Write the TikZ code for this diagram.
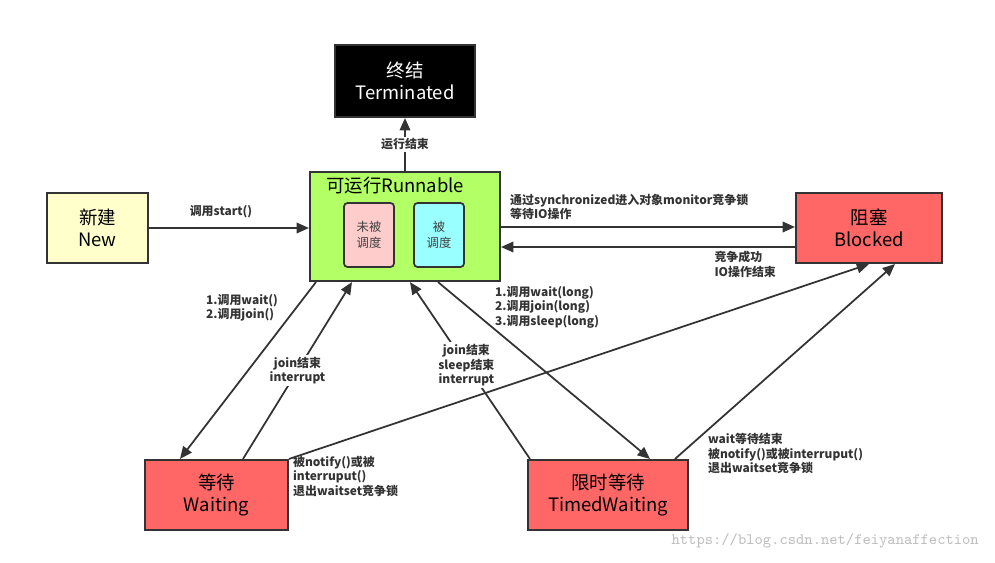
\documentclass[tikz,border=0pt]{standalone}
\usepackage{fontspec}
\setmainfont{Noto Sans CJK SC}
\newfontfamily\lbl{Noto Sans CJK SC}
\usetikzlibrary{arrows.meta}
\usetikzlibrary{calc}
\definecolor{runGreen}{HTML}{B3FF66}
\definecolor{stRed}{HTML}{FF6666}
\definecolor{newYellow}{HTML}{FFFFCC}
\definecolor{notPink}{HTML}{FFCCCC}
\definecolor{yesCyan}{HTML}{99FFFF}
\definecolor{lineGray}{HTML}{333333}

\begin{document}
\begin{tikzpicture}[x=0.02cm,y=-0.02cm,>/.tip={Triangle[length=7pt,width=6pt]},
	state/.style={draw=lineGray,line width=1.2pt,align=center,font=\fontsize{10.5}{12.5}\selectfont,inner sep=0pt},
	inner/.style={draw=lineGray,line width=1pt,rounded corners=2pt,align=center,font=\fontsize{7}{9}\selectfont,minimum width=50*0.02cm,minimum height=64*0.02cm,text=black!75},
	lab/.style={font=\lbl\bfseries\fontsize{6.8}{8.3}\selectfont,text=black!80,inner sep=1pt},
	conn/.style={->,draw=lineGray,line width=1pt}]
	\useasboundingbox (0,0) rectangle (995,562);
	\draw (405,81) node (term) [state,fill=black,text=white,minimum width=140*0.02cm,minimum height=72*0.02cm] {终结\\Terminated};
	\draw (405,226.5) node (run) [state,fill=runGreen,minimum width=190*0.02cm,minimum height=109*0.02cm] {};
	\node [font=\fontsize{10.5}{12.5}\selectfont,anchor=west] at (320,186) {可运行Runnable};
	\draw (369,235) node (notsch) [inner,fill=notPink] {未被\\调度};
	\draw (439,235) node (sch) [inner,fill=yesCyan] {被\\调度};
	\draw (97.5,228) node (new) [state,fill=newYellow,minimum width=101*0.02cm,minimum height=70*0.02cm] {新建\\New};
	\draw (869,228) node (blocked) [state,fill=stRed,minimum width=146*0.02cm,minimum height=70*0.02cm] {阻塞\\Blocked};
	\draw (216.5,495) node (wait) [state,fill=stRed,minimum width=143*0.02cm,minimum height=70*0.02cm] {等待\\Waiting};
	\draw (608,495) node (timed) [state,fill=stRed,minimum width=160*0.02cm,minimum height=70*0.02cm] {限时等待\\TimedWaiting};

	\draw[conn] (run.north) -- (term.south) node [lab,pos=0.5,fill=white] {运行结束};
	\draw[conn] (new.east) -- (run.west |- new.east) node [lab,pos=0.45,above=4pt] {调用start()};
	\draw[conn] (run.east |- 0,227) -- (blocked.west |- 0,227);
	\node [lab,anchor=south west,align=left] at (508,222) {通过synchronized进入对象monitor竞争锁\\等待IO操作};
	\draw[conn] (blocked.west |- 0,247) -- (run.east |- 0,247);
	\node [lab,anchor=north east,align=left] at (778,249) {竞争成功\\IO操作结束};
	\draw[conn] (run.south -| 316,0) -- (wait.north -| 180,0);
	\node [lab,anchor=north west,align=left] at (204,292) {1.调用wait()\\2.调用join()};
	\draw[conn] (wait.north -| 243,0) -- (run.south -| 352,0) node [lab,pos=0.5,fill=white,align=center] {join结束\\interrupt};
	\draw[conn] (timed.north -| 530,0) -- (run.south -| 410,0) node [lab,pos=0.53,fill=white,align=center] {join结束\\sleep结束\\interrupt};
	\draw[conn] (run.south -| 438,0) -- (timed.north -| 650,0);
	\node [lab,anchor=north west,align=left] at (493,284) {1.调用wait(long)\\2.调用join(long)\\3.调用sleep(long)};
	\draw[conn] (wait.north east) -- (blocked.south);
	\node [lab,anchor=north west,align=left] at (291,454) {被notify()或被\\interruput()\\退出waitset竞争锁};
	\draw[conn] (timed.north -| 675,0) -- (blocked.south -| 895,0);
	\node [lab,anchor=north west,align=left] at (706,431) {wait等待结束\\被notify()或被interruput()\\退出waitset竞争锁};
	\node [font=\ttfamily\fontsize{9}{10}\selectfont,text=black!25,anchor=east] at (985,541) {https://blog.csdn.net/feiyanaffection};
\end{tikzpicture}
\end{document}
